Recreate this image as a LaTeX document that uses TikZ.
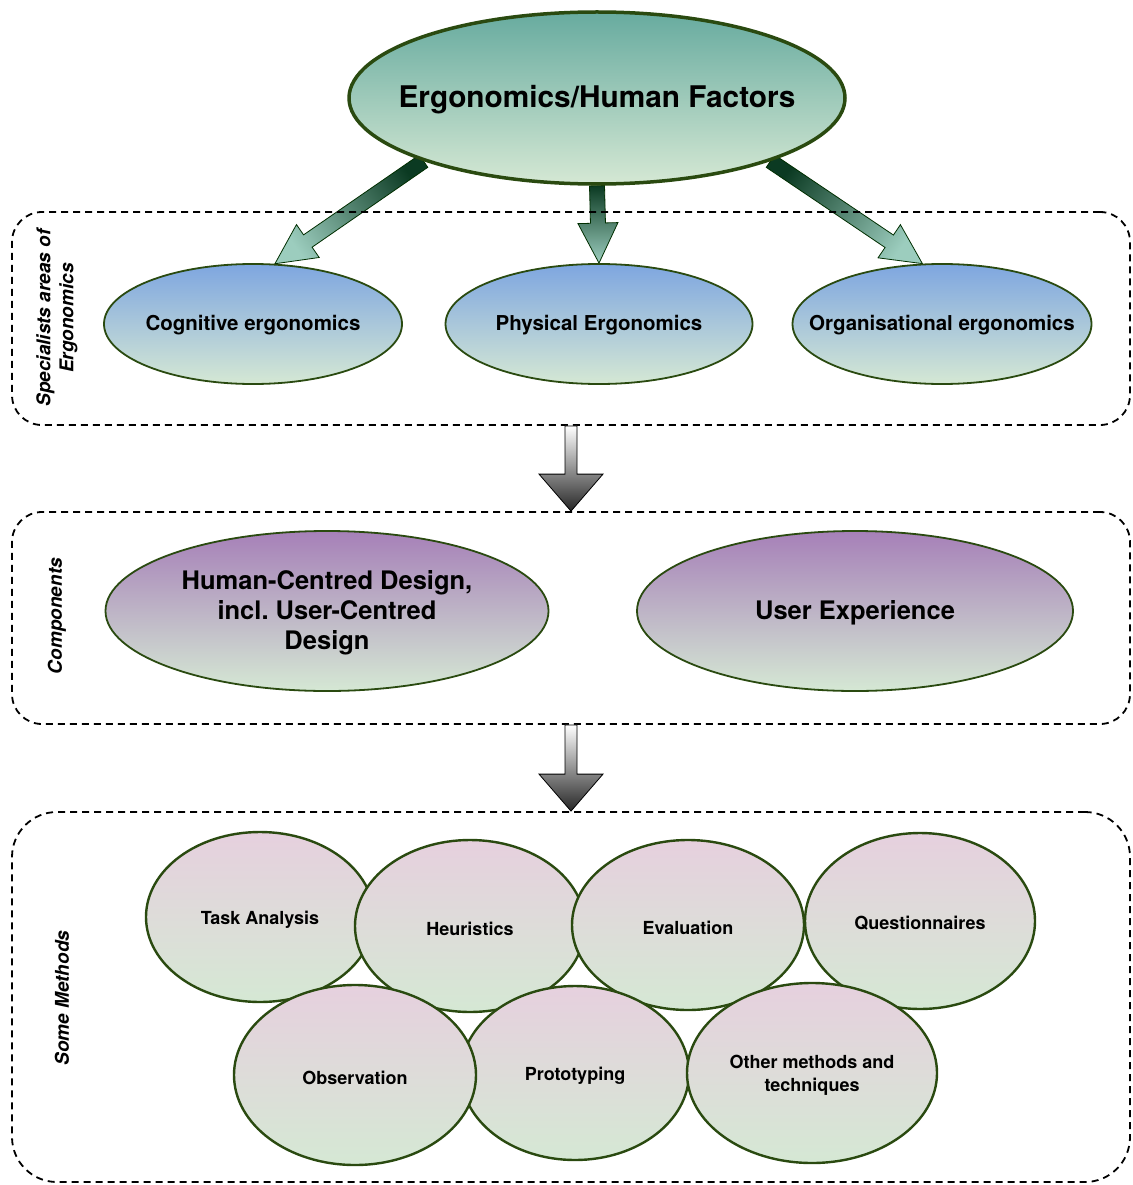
\documentclass[tikz,border=0pt]{standalone}
\usepackage{fontspec}
\newfontfamily\hv{TeX Gyre Heros}
\usetikzlibrary{shapes.geometric,calc,backgrounds}
\frenchspacing

\definecolor{edgegreen}{HTML}{2A4A10}
\definecolor{tealtop}{HTML}{67AB9F}
\definecolor{palegreen}{HTML}{D5E8D4}
\definecolor{bluetop}{HTML}{7EA6E0}
\definecolor{purpletop}{HTML}{A680B8}
\definecolor{pinktop}{HTML}{E6D0DE}
\definecolor{arrowdark}{HTML}{0B3A22}
\definecolor{arrowlight}{HTML}{9CCDBE}

% Block arrow from tail #2 to tip #3; #4 names the neck point,
% #5 shaft half width, #6 head half width, #7 head length
\newcommand\fatarrow[7]{%
  \coordinate (#4) at ($(#3)!#7!(#2)$);
  \path[#1] ($(#2)!#5!90:(#3)$) -- ($(#4)!#5!90:(#3)$) -- ($(#4)!#6!90:(#3)$) -- (#3)
    -- ($(#4)!#6!-90:(#3)$) -- ($(#4)!#5!-90:(#3)$) -- ($(#2)!#5!-90:(#3)$) -- cycle;
}

\tikzset{
  ell/.style={ellipse, draw=edgegreen, inner sep=0pt},
  mainell/.style={ell, line width=3.5pt, top color=tealtop, bottom color=palegreen,
    minimum width=496pt, minimum height=172pt},
  areaell/.style={ell, line width=1.8pt, top color=bluetop, bottom color=palegreen,
    minimum height=120pt},
  compell/.style={ell, line width=1.8pt, top color=purpletop, bottom color=palegreen,
    minimum height=160pt},
  methell/.style={ell, line width=2.4pt, top color=pinktop, bottom color=palegreen},
  groupbox/.style={draw=black, line width=1.8pt, dash pattern=on 7pt off 5pt,
    rounded corners=30pt, minimum width=1118pt},
  sidelabel/.style={rotate=90, align=center,
    font=\hv\bfseries\itshape\fontsize{19}{23}\selectfont},
  titlefont/.style={font=\hv\bfseries\fontsize{29.8}{34}\selectfont, yshift=-2pt},
  areafont/.style={font=\hv\bfseries\fontsize{20.5}{24}\selectfont, yshift=-1.5pt},
  compfont/.style={font=\hv\bfseries\fontsize{25.5}{30}\selectfont, align=center, yshift=-2pt},
  methfont/.style={font=\hv\bfseries\fontsize{18}{23}\selectfont, align=center, yshift=-2.5pt},
  greenarrow/.style={draw=black!70!green!60!black, line width=0.8pt, line join=miter,
    top color=arrowdark, bottom color=arrowlight},
  grayarrow/.style={draw=black, line width=0.8pt, line join=miter,
    top color=white, bottom color=black!85},
}

\begin{document}
\begin{tikzpicture}[x=1pt, y=-1pt]
\useasboundingbox (0,0) rectangle (1132,1185);

% group frames
\node[groupbox, minimum height=213pt] (areas) at (571,318.5) {};
\node[groupbox, minimum height=212pt] (comps) at (571,618) {};
\node[groupbox, minimum height=370pt, rounded corners=45pt] (methods) at (571,997) {};

% side captions
\node[sidelabel] (areascap) at (57,318) {Specialists areas of\\Ergonomics};
\node[sidelabel] (compscap) at (57,616) {Components};
\node[sidelabel] (methcap) at (62,998) {Some Methods};

% top concept
\node[mainell, label={[titlefont]center:Ergonomics/Human Factors}] (ehf) at (597,98) {};

% specialist areas
\node[areaell, minimum width=298pt, label={[areafont]center:Cognitive ergonomics}] (cog) at (253,324) {};
\node[areaell, minimum width=307pt, label={[areafont]center:Physical Ergonomics}] (phys) at (599,324) {};
\node[areaell, minimum width=299pt, label={[areafont]center:Organisational ergonomics}] (org) at (942,324) {};

% components
\node[compell, minimum width=443pt,
  label={[compfont]center:{Human-Centred Design,\\incl. User-Centred\\Design}}] (hcd) at (327,611) {};
\node[compell, minimum width=436pt, label={[compfont]center:User Experience}] (ux) at (855,611) {};

% methods
\node[methell, minimum width=228pt, minimum height=170pt,
  label={[methfont]center:Task Analysis}] (task) at (260,917) {};
\node[methell, minimum width=230pt, minimum height=172pt,
  label={[methfont]center:Heuristics}] (heur) at (470,926) {};
\node[methell, minimum width=232pt, minimum height=170pt,
  label={[methfont]center:Evaluation}] (eval) at (688,925) {};
\node[methell, minimum width=230pt, minimum height=176pt,
  label={[methfont]center:Questionnaires}] (quest) at (920,921) {};
\node[methell, minimum width=228pt, minimum height=174pt,
  label={[methfont]center:Prototyping}] (proto) at (575,1073) {};
\node[methell, minimum width=242pt, minimum height=180pt,
  label={[methfont]center:Observation}] (obs) at (355,1075) {};
\node[methell, minimum width=250pt, minimum height=180pt,
  label={[methfont]center:{Other methods and\\techniques}}] (other) at (812,1073) {};

% white page and the block arrows under the ellipses
\begin{scope}[on background layer]
  \fill[white] (0,0) rectangle (1132,1185);
  \fatarrow{greenarrow, shading angle=-54}{ehf.200}{cog.70}{neckA}{7.5pt}{20pt}{40pt}
  \fatarrow{greenarrow}{ehf.south}{phys.north}{neckB}{7.5pt}{20pt}{40pt}
  \fatarrow{greenarrow, shading angle=54}{ehf.-20}{org.108}{neckC}{7.5pt}{20pt}{40pt}
\end{scope}
\fatarrow{grayarrow}{areas.south}{comps.north}{neckD}{6pt}{32pt}{37pt}
\fatarrow{grayarrow}{comps.south}{methods.north}{neckE}{6pt}{32pt}{37pt}
\end{tikzpicture}
\end{document}
